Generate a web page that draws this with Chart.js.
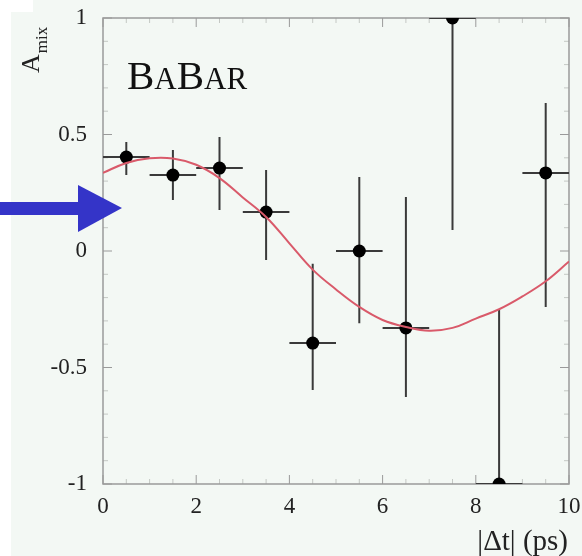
<!DOCTYPE html>
<html><head><meta charset="utf-8">
<script src="https://cdn.jsdelivr.net/npm/chart.js@4"></script>
<style>html,body{margin:0;padding:0;background:#f3f8f4;}canvas{display:block}</style>
</head><body><canvas id="c" width="582" height="556"></canvas>
<script>
// bin centres (ps) and measured A_mix
const binCenters = [0.5, 1.5, 2.5, 3.5, 4.5, 5.5, 6.5, 7.5, 8.5, 9.5];
const amix      = [0.403, 0.326, 0.356, 0.167, -0.395, 0.0, -0.33, 1.0, -1.0, 0.335];
const errLow    = [0.326, 0.219, 0.176, -0.039, -0.597, -0.31, -0.627, 0.09, -1.0, -0.24];
const errHigh   = [0.468, 0.433, 0.489, 0.348, -0.055, 0.318, 0.232, 1.0, -0.253, 0.635];
const binHalfWidth = 0.5;
// fitted curve
const curveT = [0, 0.5, 1, 1.5, 2, 2.5, 3, 3.5, 4, 4.5, 5, 5.5, 6, 6.5, 7, 7.5, 8, 8.5, 9, 9.5, 10];
const curveV = [0.335, 0.378, 0.398, 0.397, 0.37, 0.313, 0.23, 0.146, 0.033, -0.08, -0.165, -0.24, -0.296, -0.326, -0.342, -0.33, -0.29, -0.25, -0.195, -0.13, -0.045];
const xTicks = [0, 2, 4, 6, 8, 10];
const yTicks = [-1, -0.5, 0, 0.5, 1];

const SERIF = '"Liberation Serif", "DejaVu Serif", serif';

const bgPlugin = {
  id: 'bg',
  beforeDraw(chart) {
    const ctx = chart.ctx;
    ctx.save();
    ctx.fillStyle = '#f3f8f4';
    ctx.fillRect(0, 0, chart.width, chart.height);
    ctx.fillStyle = '#ffffff';
    ctx.fillRect(0, 0, 11, chart.height);
    ctx.fillRect(0, 0, 33, 12);
    ctx.restore();
  }
};

const framePlugin = {
  id: 'frame',
  beforeDatasetsDraw(chart) {
    const {ctx, chartArea: a, scales: {x, y}} = chart;
    ctx.save();
    ctx.lineWidth = 1;
    for (let v = 0; v <= 10.001; v += 0.5) {
      const px = x.getPixelForValue(v);
      const major = Math.abs(v / 2 - Math.round(v / 2)) < 1e-6;
      const len = major ? 9 : 5;
      ctx.strokeStyle = major ? '#9a9a9a' : '#c4c8c4';
      ctx.beginPath();
      ctx.moveTo(px, a.bottom); ctx.lineTo(px, a.bottom - len);
      ctx.moveTo(px, a.top); ctx.lineTo(px, a.top + len);
      ctx.stroke();
    }
    for (let i = -10; i <= 10; i++) {
      const v = i / 10;
      const py = y.getPixelForValue(v);
      const major = i % 5 === 0;
      const len = major ? 9 : 5;
      ctx.strokeStyle = major ? '#9a9a9a' : '#c4c8c4';
      ctx.beginPath();
      ctx.moveTo(a.left, py); ctx.lineTo(a.left + len, py);
      ctx.moveTo(a.right, py); ctx.lineTo(a.right - len, py);
      ctx.stroke();
    }
    ctx.strokeStyle = '#9a9a9a';
    ctx.lineWidth = 1.5;
    ctx.strokeRect(a.left, a.top, a.right - a.left, a.bottom - a.top);

    // error bars
    ctx.beginPath();
    ctx.rect(a.left, a.top, a.right - a.left, a.bottom - a.top);
    ctx.clip();
    ctx.strokeStyle = '#3a3a3a';
    ctx.lineWidth = 2;
    binCenters.forEach((c, i) => {
      const px = x.getPixelForValue(c);
      const py = y.getPixelForValue(amix[i]);
      ctx.beginPath();
      ctx.moveTo(px, y.getPixelForValue(errLow[i]));
      ctx.lineTo(px, y.getPixelForValue(errHigh[i]));
      ctx.moveTo(x.getPixelForValue(c - binHalfWidth), py);
      ctx.lineTo(x.getPixelForValue(c + binHalfWidth), py);
      ctx.stroke();
    });
    ctx.restore();
  },
  afterDraw(chart) {
    const ctx = chart.ctx;
    ctx.save();
    // BaBar logo (small caps)
    ctx.fillStyle = '#111';
    ctx.textBaseline = 'alphabetic';
    ctx.textAlign = 'left';
    let xp = 127;
    const parts = [['B', 41], ['A', 31], ['B', 41], ['AR', 31]];
    parts.forEach(([t, s]) => {
      ctx.font = s + 'px ' + SERIF;
      ctx.fillText(t, xp, 89);
      xp += ctx.measureText(t).width;
    });
    // x title
    ctx.font = '29px ' + SERIF;
    ctx.textAlign = 'right';
    ctx.fillStyle = '#222';
    ctx.fillText('|\u0394t| (ps)', 568, 550);
    // y title, rotated
    ctx.translate(39, 73);
    ctx.rotate(-Math.PI / 2);
    ctx.textAlign = 'left';
    ctx.font = '26px ' + SERIF;
    ctx.fillText('A', 0, 0);
    const aw = ctx.measureText('A').width;
    ctx.font = '17px ' + SERIF;
    ctx.fillText('mix', aw + 1, 8);
    ctx.restore();
    // blue arrow annotation
    ctx.save();
    ctx.fillStyle = '#3434c8';
    ctx.fillRect(0, 202, 79, 13);
    ctx.beginPath();
    ctx.moveTo(78, 185); ctx.lineTo(122, 208); ctx.lineTo(78, 232); ctx.closePath();
    ctx.fill();
    ctx.restore();
  }
};

new Chart(document.getElementById('c'), {
  data: {
    datasets: [
      {
        type: 'line',
        data: curveT.map((t, i) => ({x: t, y: curveV[i]})),
        borderColor: '#d95a6a',
        borderWidth: 2,
        pointRadius: 0,
        tension: 0.4,
        fill: false,
        clip: 0
      },
      {
        type: 'scatter',
        data: binCenters.map((c, i) => ({x: c, y: amix[i]})),
        backgroundColor: '#000',
        borderWidth: 0,
        pointRadius: 6.5,
        clip: 0
      }
    ]
  },
  options: {
    responsive: false,
    animation: false,
    devicePixelRatio: 1,
    layout: {padding: {top: 18, right: 13, left: 0, bottom: 0}},
    plugins: {legend: {display: false}, tooltip: {enabled: false}},
    scales: {
      x: {
        type: 'linear', min: 0, max: 10,
        grid: {display: false, drawTicks: false},
        border: {display: false},
        afterBuildTicks: s => { s.ticks = xTicks.map(v => ({value: v})); },
        ticks: {font: {family: SERIF, size: 23}, color: '#222', padding: 9, maxRotation: 0,
                callback: v => String(v)},
        afterFit: s => { s.height = 72; s.paddingLeft = 0; s.paddingRight = 0; }
      },
      y: {
        type: 'linear', min: -1, max: 1,
        grid: {display: false, drawTicks: false},
        border: {display: false},
        afterBuildTicks: s => { s.ticks = yTicks.map(v => ({value: v})); },
        ticks: {font: {family: SERIF, size: 23}, color: '#222', padding: 16,
                callback: v => String(v)},
        afterFit: s => { s.width = 103; s.paddingTop = 0; s.paddingBottom = 0; }
      }
    }
  },
  plugins: [bgPlugin, framePlugin]
});
</script>
</body></html>
